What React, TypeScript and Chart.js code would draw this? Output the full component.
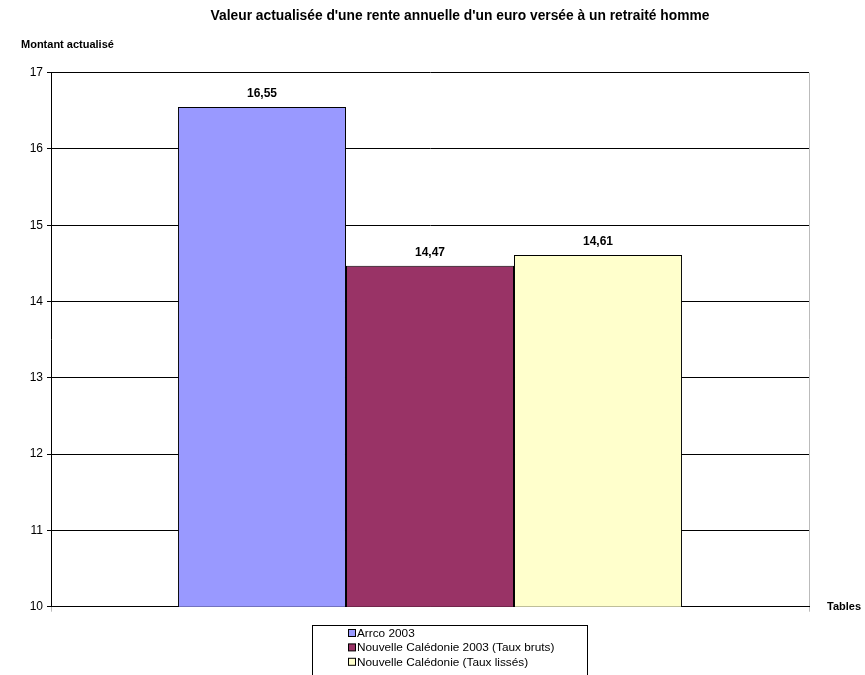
import React, { useEffect, useRef } from "react";
import { Chart, registerables } from "chart.js";

Chart.register(...registerables);

const TITLE = "Valeur actualisée d'une rente annuelle d'un euro versée à un retraité homme";
const Y_LABEL = "Montant actualisé";
const X_LABEL = "Tables";
const CATEGORIES = [""];
const SERIES_LABELS = ["Arrco 2003", "Nouvelle Calédonie 2003 (Taux bruts)", "Nouvelle Calédonie (Taux lissés)"];
const SERIES_VALUES = [16.55, 14.47, 14.61];
const VALUE_LABELS = ["16,55", "14,47", "14,61"];
const SERIES_COLORS = ["#9999FF", "#993366", "#FFFFCC"];
const Y_MIN = 10;
const Y_MAX = 17;

const FONT = "'Liberation Sans', Arial, sans-serif";

const textPlugin = {
  id: "textPlugin",
  afterDraw(chart: any) {
    const ctx = chart.ctx;
    ctx.save();
    ctx.fillStyle = "#000";
    // title
    ctx.font = `bold 13.8px ${FONT}`;
    ctx.textAlign = "center";
    ctx.textBaseline = "middle";
    ctx.fillText(TITLE, 460, 16);
    // y label
    ctx.font = `bold 11px ${FONT}`;
    ctx.textAlign = "left";
    ctx.fillText(Y_LABEL, 21, 45);
    // x label
    ctx.font = `bold 11px ${FONT}`;
    ctx.fillText(X_LABEL, 827, 607);
    // value labels
    ctx.font = `bold 12px ${FONT}`;
    ctx.textAlign = "center";
    chart.data.datasets.forEach((ds: any, i: number) => {
      const meta = chart.getDatasetMeta(i);
      const el = meta.data[0];
      if (!el) return;
      ctx.fillText(VALUE_LABELS[i], el.x, el.y - 13);
    });
    // legend
    ctx.strokeStyle = "#000";
    ctx.lineWidth = 1;
    ctx.strokeRect(312.5, 625.5, 275, 60);
    ctx.font = `11.8px ${FONT}`;
    ctx.textAlign = "left";
    chart.data.datasets.forEach((ds: any, i: number) => {
      const cy = 633 + i * 14.4;
      ctx.fillStyle = ds.backgroundColor;
      ctx.fillRect(348.5, cy - 3.5, 7, 7);
      ctx.strokeStyle = "#000";
      ctx.strokeRect(348.5, cy - 3.5, 7, 7);
      ctx.fillStyle = "#000";
      ctx.fillText(ds.label, 357, cy + 0.5);
    });
    ctx.restore();
  },
};

export default function App() {
  const ref = useRef<HTMLCanvasElement | null>(null);
  useEffect(() => {
    if (!ref.current) return;
    const chart = new Chart(ref.current, {
      type: "bar",
      data: {
        labels: CATEGORIES,
        datasets: SERIES_LABELS.map((label, i) => ({
          label,
          data: [SERIES_VALUES[i]],
          backgroundColor: SERIES_COLORS[i],
          borderColor: "#000",
          borderWidth: 1,
          categoryPercentage: 0.665,
          barPercentage: 1,
        })),
      },
      options: {
        responsive: false,
        animation: false,
        layout: { padding: { left: 0, right: 56, top: 72.7, bottom: 0 } },
        plugins: {
          legend: { display: false },
          title: { display: false },
          tooltip: { enabled: false },
        },
        scales: {
          x: {
            type: "category",
            offset: true,
            grid: {
              offset: true,
              color: "#bbb",
              drawOnChartArea: true,
              tickLength: 5,
            },
            border: { color: "#000" },
            ticks: { display: false },
            afterFit: (scale: any) => {
              scale.height = 68.3;
            },
          },
          y: {
            min: Y_MIN,
            max: Y_MAX,
            ticks: {
              stepSize: 1,
              color: "#000",
              padding: 4,
              font: { size: 12, family: FONT },
            },
            grid: { color: "#000", tickLength: 4 },
            border: { color: "#000" },
            afterFit: (scale: any) => {
              scale.width = 51;
            },
          },
        },
      },
      plugins: [textPlugin],
    });
    return () => chart.destroy();
  }, []);
  return (
    <div style={{ position: "absolute", left: 0, top: 0, width: 865, height: 675, background: "#fff" }}>
      <canvas ref={ref} width={865} height={675} style={{ display: "block" }} />
    </div>
  );
}
